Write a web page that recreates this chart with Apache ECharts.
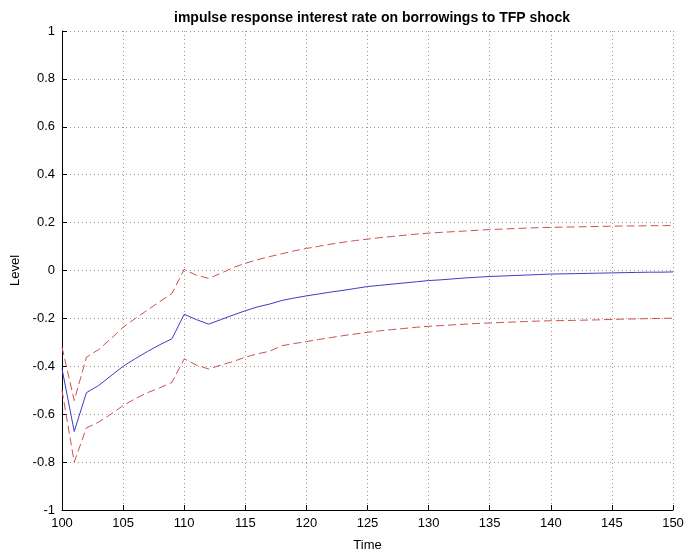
<!DOCTYPE html>
<html>
<head>
<meta charset="utf-8">
<script src="https://cdn.jsdelivr.net/npm/echarts@6/dist/echarts.min.js"></script>
<style>
  html, body { margin: 0; padding: 0; background: #fff; }
  #chart { width: 689px; height: 557px; }
</style>
</head>
<body>
<div id="chart"></div>
<script>
// Periods after the shock
const periods = [];
for (let t = 100; t <= 150; t++) periods.push(t);

// Median impulse response
const response = [
  -0.41, -0.672, -0.51, -0.48, -0.44, -0.40, -0.368, -0.338, -0.31, -0.285,
  -0.183, -0.205, -0.224, -0.205, -0.186, -0.168, -0.152, -0.14, -0.125, -0.115,
  -0.106, -0.098, -0.090, -0.083, -0.075, -0.067, -0.062, -0.057, -0.052, -0.047,
  -0.042, -0.039, -0.035, -0.031, -0.028, -0.025, -0.023, -0.021, -0.019, -0.017,
  -0.015, -0.014, -0.013, -0.012, -0.011, -0.010, -0.009, -0.008, -0.007, -0.007,
  -0.006
];

// Upper confidence band
const upperBand = [
  -0.32, -0.543, -0.362, -0.33, -0.285, -0.237, -0.20, -0.165, -0.13, -0.096,
  0.005, -0.02, -0.033, -0.012, 0.012, 0.03, 0.045, 0.058, 0.07, 0.082,
  0.092, 0.101, 0.110, 0.118, 0.125, 0.131, 0.137, 0.142, 0.147, 0.152,
  0.156, 0.159, 0.162, 0.165, 0.168, 0.171, 0.173, 0.175, 0.177, 0.179,
  0.180, 0.181, 0.182, 0.183, 0.184, 0.185, 0.186, 0.186, 0.187, 0.187,
  0.188
];

// Lower confidence band
const lowerBand = [
  -0.50, -0.80, -0.657, -0.633, -0.60, -0.564, -0.535, -0.51, -0.49, -0.467,
  -0.369, -0.395, -0.411, -0.395, -0.38, -0.362, -0.348, -0.337, -0.314, -0.305,
  -0.297, -0.288, -0.280, -0.272, -0.265, -0.258, -0.252, -0.247, -0.242, -0.237,
  -0.233, -0.230, -0.227, -0.224, -0.221, -0.219, -0.217, -0.215, -0.213, -0.211,
  -0.210, -0.209, -0.208, -0.207, -0.206, -0.204, -0.203, -0.202, -0.201, -0.200,
  -0.199
];

const pairs = (ys) => periods.map((t, i) => [t, ys[i]]);
const font = 'Liberation Sans, Helvetica, Arial, sans-serif';

const chart = echarts.init(document.getElementById('chart'), null, { renderer: 'canvas' });
chart.setOption({
  animation: false,
  backgroundColor: '#ffffff',
  title: {
    text: 'impulse response interest rate on borrowings to TFP shock',
    left: 367, textAlign: 'center', top: 6,
    textStyle: { fontFamily: font, fontSize: 14, fontWeight: 'bold', color: '#000' }
  },
  grid: { left: 62, right: 16, top: 31, bottom: 46, containLabel: false },
  xAxis: {
    type: 'value', min: 100, max: 150, interval: 5,
    name: 'Time', nameLocation: 'middle', nameGap: 29,
    nameTextStyle: { fontFamily: font, fontSize: 13, color: '#000' },
    axisLine: { show: true, onZero: false, lineStyle: { color: '#000', width: 1 } },
    axisTick: { show: true, inside: true, length: 5, lineStyle: { color: '#000' } },
    axisLabel: { fontFamily: font, fontSize: 13, color: '#000', margin: 7 },
    splitLine: { show: true, lineStyle: { color: '#999', type: [1, 3], width: 1 } }
  },
  yAxis: {
    type: 'value', min: -1, max: 1, interval: 0.2,
    name: 'Level', nameLocation: 'middle', nameGap: 32, nameRotate: 90,
    nameTextStyle: { fontFamily: font, fontSize: 13, color: '#000' },
    axisLine: { show: true, onZero: false, lineStyle: { color: '#000', width: 1 } },
    axisTick: { show: true, inside: true, length: 5, lineStyle: { color: '#000' } },
    axisLabel: {
      fontFamily: font, fontSize: 13, color: '#000', margin: 7,
      formatter: (v) => String(Math.round(v * 10) / 10)
    },
    splitLine: { show: true, lineStyle: { color: '#999', type: [1, 3], width: 1 } }
  },
  series: [
    {
      type: 'line', data: pairs(upperBand), symbol: 'none',
      lineStyle: { color: '#d05050', width: 1, type: [8, 4] }
    },
    {
      type: 'line', data: pairs(lowerBand), symbol: 'none',
      lineStyle: { color: '#d05050', width: 1, type: [8, 4] }
    },
    {
      type: 'line', data: pairs(response), symbol: 'none',
      lineStyle: { color: '#3c3cc8', width: 1 }
    }
  ]
});
</script>
</body>
</html>
